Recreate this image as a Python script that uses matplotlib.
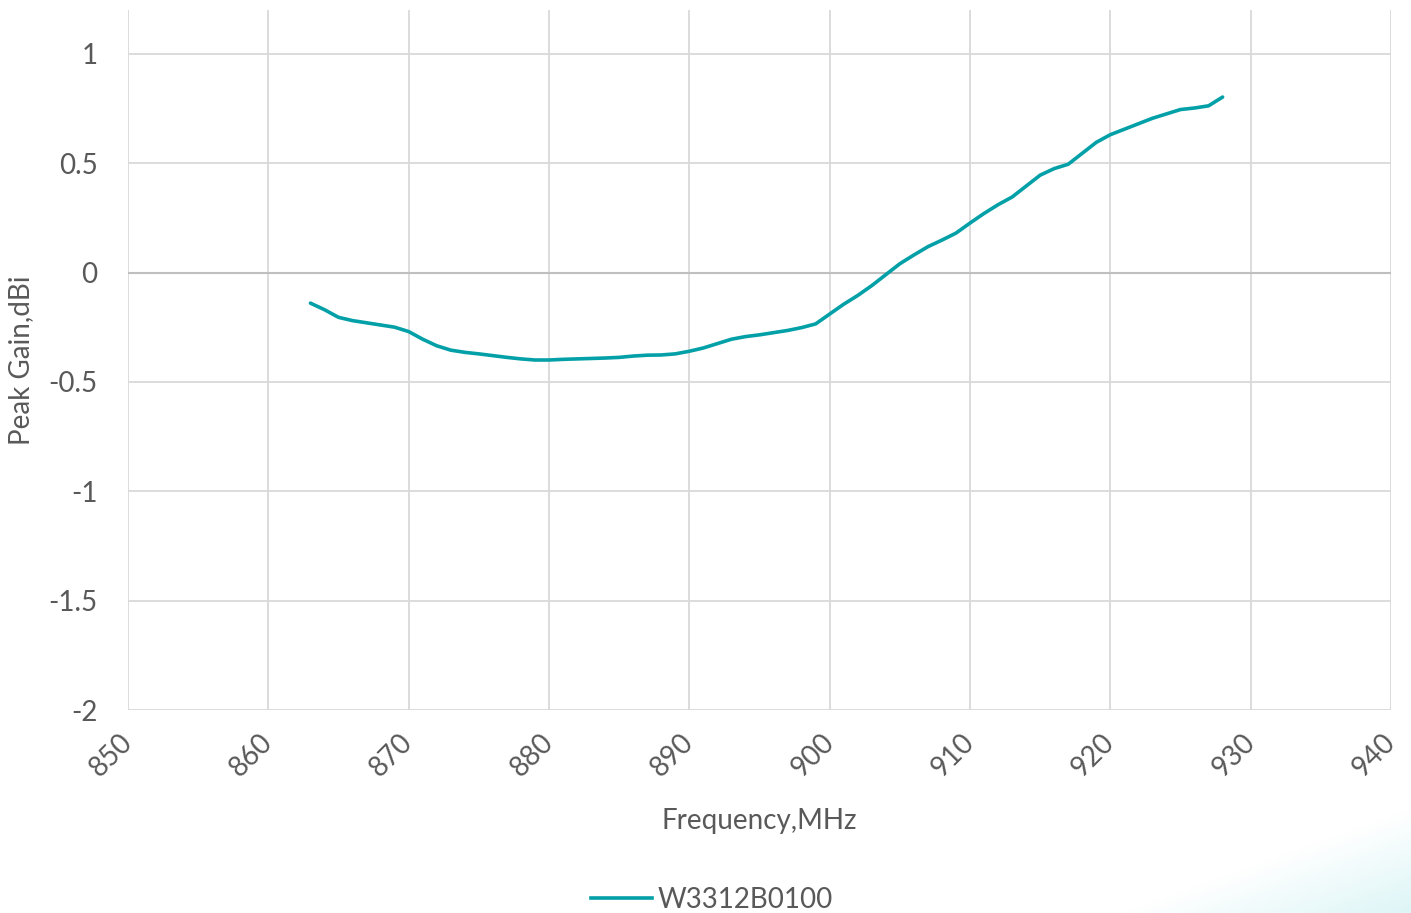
import numpy as np
import matplotlib
matplotlib.use("Agg")
import matplotlib.pyplot as plt
from matplotlib.lines import Line2D

# ---- data ----
freq_mhz = list(range(863, 929))
peak_gain_dbi = [
    -0.14, -0.17, -0.205, -0.22, -0.23, -0.24, -0.25, -0.27, -0.305, -0.335,
    -0.355, -0.365, -0.372, -0.38, -0.388, -0.395, -0.40, -0.40, -0.397, -0.395,
    -0.393, -0.391, -0.388, -0.382, -0.378, -0.377, -0.372, -0.36, -0.345, -0.325,
    -0.305, -0.293, -0.285, -0.275, -0.265, -0.252, -0.235, -0.19, -0.145, -0.105,
    -0.06, -0.01, 0.04, 0.08, 0.118, 0.148, 0.18, 0.226, 0.27, 0.31,
    0.345, 0.395, 0.445, 0.475, 0.495, 0.545, 0.595, 0.63, 0.655, 0.68,
    0.705, 0.725, 0.745, 0.752, 0.762, 0.802,
]
series_name = "W3312B0100"
x_ticks = list(range(850, 941, 10))
y_ticks = [-2, -1.5, -1, -0.5, 0, 0.5, 1]
y_tick_labels = ["-2", "-1.5", "-1", "-0.5", "0", "0.5", "1"]
x_label = "Frequency,MHz"
y_label = "Peak Gain,dBi"

LINE_COLOR = "#04A0A8"
GRID = "#d9d9d9"
TEXT = "#595959"
FS = 20

plt.rcParams["font.family"] = ["Lato", "DejaVu Sans"]

W, H = 1411, 913
fig = plt.figure(figsize=(W / 100, H / 100), dpi=100)

# decorative light-cyan wedge in the lower-right corner
bg = fig.add_axes([0, 0, 1, 1], zorder=-5)
bg.set_axis_off()
yy, xx = np.mgrid[0:H, 0:W]
x0, y0, x1, y1 = 1110, 913, 1411, 805
nx, ny = -(y1 - y0), (x1 - x0)
norm = np.hypot(nx, ny)
d = ((xx - x0) * nx + (yy - y0) * ny) / norm
alpha = np.clip(d / 110.0, 0, 1) * 0.15
img = np.zeros((H, W, 4))
img[..., 1] = 0.72
img[..., 2] = 0.76
img[..., 3] = alpha
bg.imshow(img, extent=[0, W, H, 0], aspect="auto")
bg.set_xlim(0, W)
bg.set_ylim(H, 0)

ax = fig.add_axes([128 / W, 1 - 710 / H, (1391 - 128) / W, (710 - 10) / H])
ax.set_facecolor("none")
ax.plot(freq_mhz, peak_gain_dbi, color=LINE_COLOR, lw=2.6, solid_capstyle="round",
        solid_joinstyle="round", zorder=3)

ax.set_xlim(850, 940)
ax.set_ylim(-2, 1.2)
ax.set_xticks(x_ticks)
ax.set_yticks(y_ticks)
ax.set_yticklabels(y_tick_labels)
ax.grid(True, color=GRID, lw=1.3)
ax.axhline(0, color="#bfbfbf", lw=1.5, zorder=2)
for s in ax.spines.values():
    s.set_visible(False)
ax.tick_params(axis="both", length=0, colors=TEXT, labelsize=FS)
ax.tick_params(axis="y", pad=22)
ax.tick_params(axis="x", pad=20)
for lbl in ax.get_xticklabels():
    lbl.set_rotation(45)
    lbl.set_ha("right")
    lbl.set_va("center")
    lbl.set_rotation_mode("anchor")

ax.set_xlabel(x_label, fontsize=FS, color=TEXT)
ax.xaxis.set_label_coords((759 - 128) / (1391 - 128), -(808 - 710) / 700)
ax.set_ylabel(y_label, fontsize=FS, color=TEXT)
ax.yaxis.set_label_coords(-(128 - 34) / (1391 - 128), 0.5)

handle = Line2D([], [], color=LINE_COLOR, lw=2.6)
fig.legend([handle], [series_name], loc="center", bbox_to_anchor=(712 / W, 1 - 900 / H),
           frameon=False, fontsize=FS, labelcolor=TEXT, handlelength=2.2,
           handletextpad=0.2)

fig.savefig("out.png", dpi=100)
